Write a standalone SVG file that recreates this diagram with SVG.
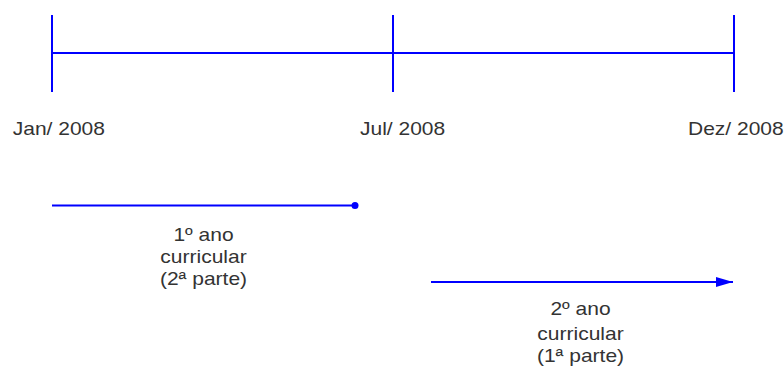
<svg xmlns="http://www.w3.org/2000/svg" width="784" height="369" viewBox="0 0 784 369">
<style>
.ln{stroke:#0000ff;stroke-width:2;fill:none}
.t{font-family:"Liberation Sans",Arial,sans-serif;font-size:18.6px;fill:#333333}
.c{text-anchor:middle}
</style>
<defs>
<marker id="ah" markerWidth="18" markerHeight="12" refX="17" refY="6" orient="auto" markerUnits="userSpaceOnUse">
<path d="M0,1 L17,6 L0,11 Z" fill="#0000ff"/>
</marker>
</defs>
<rect width="784" height="369" fill="#ffffff"/>
<g id="timeline">
<line class="ln" x1="52" y1="53" x2="734" y2="53"/>
<line class="ln" x1="52" y1="15" x2="52" y2="92"/>
<line class="ln" x1="393" y1="15" x2="393" y2="92"/>
<line class="ln" x1="734" y1="15" x2="734" y2="92"/>
</g>
<g id="label-jan"><text class="t" transform="translate(12.7,135) scale(1.13,1)">Jan/ 2008</text></g>
<g id="label-jul"><text class="t" transform="translate(360,135) scale(1.13,1)">Jul/ 2008</text></g>
<g id="label-dez"><text class="t" transform="translate(688,135) scale(1.13,1)">Dez/ 2008</text></g>
<g id="connectors">
<line class="ln" x1="52" y1="205.5" x2="355" y2="205.5"/>
<circle cx="355" cy="205.5" r="3.5" fill="#0000ff"/>
<line class="ln" x1="431" y1="282" x2="733" y2="282" marker-end="url(#ah)"/>
</g>
<g id="period1">
<text class="t c" transform="translate(203.5,241) scale(1.13,1)">1º ano</text>
<text class="t c" transform="translate(203.5,263) scale(1.13,1)">curricular</text>
<text class="t c" transform="translate(203.5,285) scale(1.13,1)">(2ª parte)</text>
</g>
<g id="period2">
<text class="t c" transform="translate(580.5,315) scale(1.13,1)">2º ano</text>
<text class="t c" transform="translate(580.5,340) scale(1.13,1)">curricular</text>
<text class="t c" transform="translate(580.5,362) scale(1.13,1)">(1ª parte)</text>
</g>
</svg>
